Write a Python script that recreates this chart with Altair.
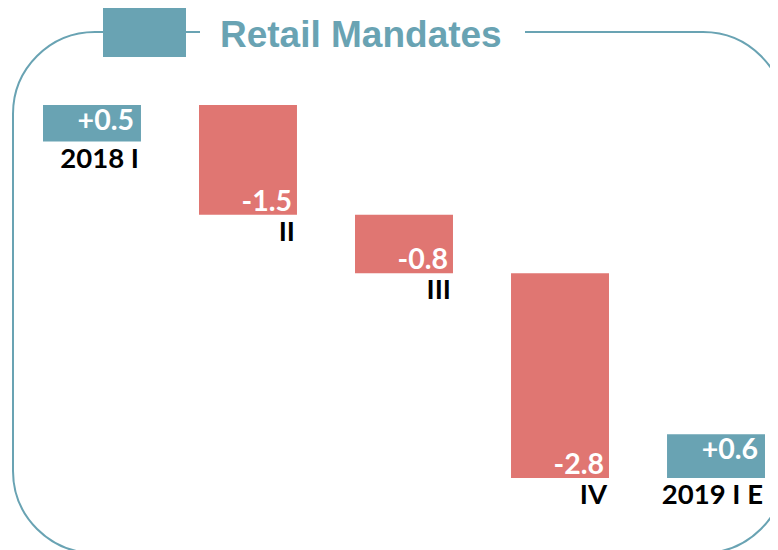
import altair as alt
import pandas as pd

categories = ["2018 I", "II", "III", "IV", "2019 I E"]
changes = [0.5, -1.5, -0.8, -2.8, 0.6]
value_labels = ["+0.5", "-1.5", "-0.8", "-2.8", "+0.6"]
title_text = "Retail Mandates"

TEAL = "#69A3B3"
RED = "#E07672"

ends = pd.Series(changes).cumsum()
starts = ends - pd.Series(changes)
df = pd.DataFrame({
    "cat": categories,
    "change": changes,
    "label": value_labels,
    "start": starts.round(3),
    "end": ends.round(3),
})
df["low"] = df[["start", "end"]].min(axis=1)
df["sign"] = ["up" if v > 0 else "down" for v in changes]

W, H = 762, 542
x_scale = alt.Scale(range=[35, 757], paddingInner=0.372, paddingOuter=0)
y_scale = alt.Scale(domain=[-5.584, 1.826], nice=False, zero=False)
x_enc = alt.X("cat:N", sort=categories, scale=x_scale, axis=None)
x_right = alt.X("cat:N", sort=categories, scale=x_scale, axis=None, bandPosition=1)

one = pd.DataFrame({"k": [0]})

frame = alt.Chart(one).mark_rect(
    cornerRadius=82, filled=False, stroke=TEAL, strokeWidth=2
).encode(x=alt.value(5), x2=alt.value(777), y=alt.value(24), y2=alt.value(545))

gap = alt.Chart(one).mark_rect(color="white").encode(
    x=alt.value(192), x2=alt.value(517), y=alt.value(16), y2=alt.value(33)
)

box = alt.Chart(one).mark_rect(color=TEAL).encode(
    x=alt.value(95), x2=alt.value(178), y=alt.value(0), y2=alt.value(49)
)

title = alt.Chart(one).mark_text(
    align="left", baseline="alphabetic", font="Liberation Sans",
    fontWeight="bold", fontSize=37, color=TEAL
).encode(x=alt.value(212), y=alt.value(39), text=alt.value(title_text))

bars = alt.Chart(df).mark_bar().encode(
    x=x_enc,
    y=alt.Y("start:Q", scale=y_scale, axis=None),
    y2="end:Q",
    color=alt.Color("sign:N", scale=alt.Scale(domain=["up", "down"], range=[TEAL, RED]), legend=None),
)

val_font = dict(font="Lato", fontWeight="bold", fontSize=28.5)
cat_font = dict(font="Lato", fontWeight="bold", fontSize=27.5)

up_labels = alt.Chart(df).transform_filter(alt.datum.change > 0).mark_text(
    align="right", baseline="alphabetic", dx=-7, dy=25, color="white", **val_font
).encode(x=x_right, y=alt.Y("end:Q", scale=y_scale, axis=None), text="label:N")

down_labels = alt.Chart(df).transform_filter(alt.datum.change < 0).mark_text(
    align="right", baseline="alphabetic", dx=-5, dy=-4, color="white", **val_font
).encode(x=x_right, y=alt.Y("end:Q", scale=y_scale, axis=None), text="label:N")

cat_labels = alt.Chart(df).mark_text(
    align="right", baseline="alphabetic", dx=-2, dy=26, color="black", **cat_font
).encode(x=x_right, y=alt.Y("low:Q", scale=y_scale, axis=None), text="cat:N")

chart = alt.layer(
    frame, gap, box, title, bars, up_labels, down_labels, cat_labels
).properties(
    width=W, height=H, padding=0,
    autosize=alt.AutoSizeParams(type="none"),
    background="white",
).configure_view(stroke=None)

chart.save("out.html", embed_options={"renderer": "svg", "actions": False})
